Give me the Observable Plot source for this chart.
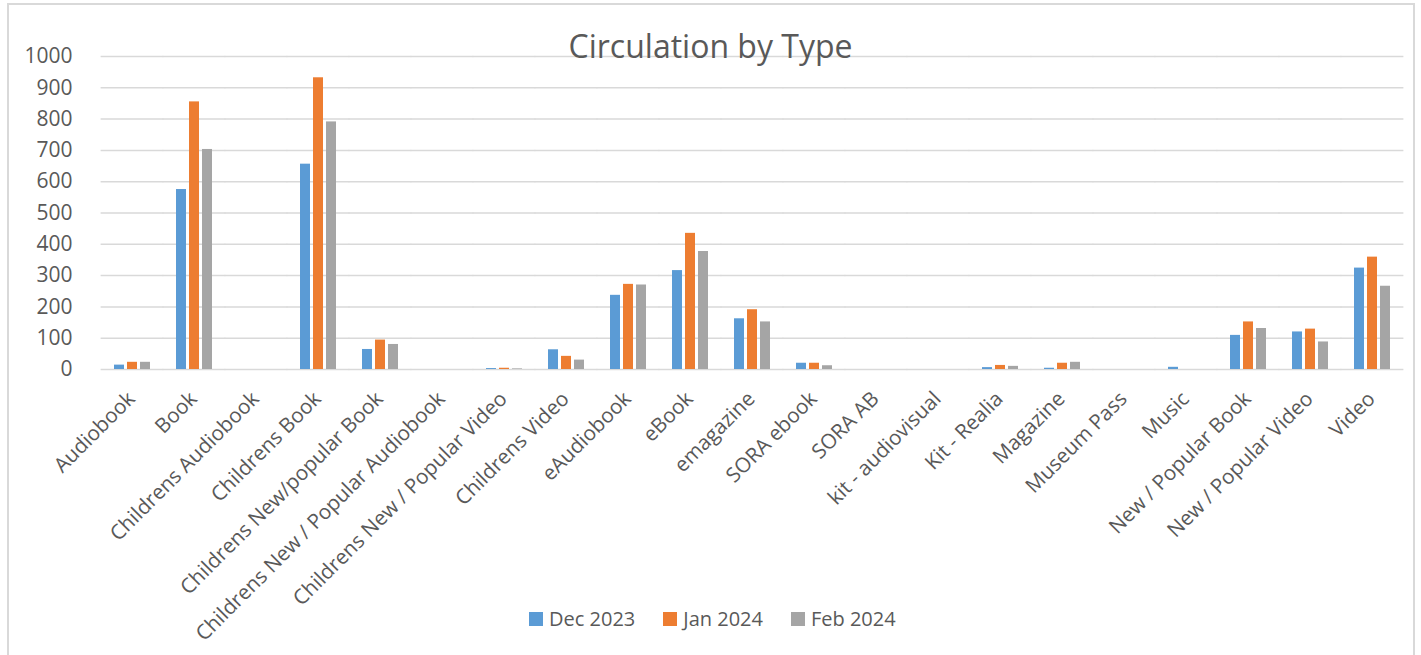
<!DOCTYPE html>
<html>
<head>
<meta charset="utf-8">
<script src="https://cdn.jsdelivr.net/npm/d3@7"></script>
<script src="https://cdn.jsdelivr.net/npm/@observablehq/plot@0.6"></script>
<style>
  html, body { margin: 0; padding: 0; background: #fff; }
  body { width: 1421px; height: 655px; position: relative; overflow: hidden; font-family: "Open Sans", sans-serif; }
  #frame { position: absolute; left: 7px; top: 3px; width: 1408px; height: 700px; border: 2px solid #d9d9d9; box-sizing: border-box; }
  #chart { position: absolute; left: 0; top: 0; }
  #title { position: absolute; left: 0; width: 1421px; top: 24px; text-align: center; font-size: 32px; color: #595959; line-height: 1.362; pointer-events: none; }
  #legend { position: absolute; left: 529px; top: 605px; display: flex; align-items: center; font-size: 20px; color: #595959; line-height: 1.362; }
  #legend .item { display: flex; align-items: center; margin-right: 28px; }
  #legend .sw { width: 14px; height: 14px; margin-right: 6px; }
</style>
</head>
<body>
<div id="frame"></div>
<div id="chart"></div>
<div id="title">Circulation by Type</div>
<div id="legend"></div>
<script>
const categories = [
  "Audiobook", "Book", "Childrens Audiobook", "Childrens Book",
  "Childrens New/popular Book", "Childrens New / Popular Audiobook",
  "Childrens New / Popular Video", "Childrens Video", "eAudiobook", "eBook",
  "emagazine", "SORA ebook", "SORA AB", "kit - audiovisual", "Kit - Realia",
  "Magazine", "Museum Pass", "Music", "New / Popular Book",
  "New / Popular Video", "Video"
];
const seriesNames = ["Dec 2023", "Jan 2024", "Feb 2024"];
const dec2023 = [14, 575, 0, 656, 64, 0, 3, 63, 237, 316, 162, 20, 0, 0, 6, 4, 0, 7, 109, 120, 324];
const jan2024 = [23, 855, 0, 932, 94, 0, 4, 42, 272, 435, 191, 20, 0, 0, 13, 20, 0, 0, 152, 129, 359];
const feb2024 = [23, 703, 0, 791, 80, 0, 2, 30, 270, 377, 152, 12, 0, 0, 10, 23, 0, 0, 131, 88, 266];
const yTicks = [0, 100, 200, 300, 400, 500, 600, 700, 800, 900, 1000];
const colors = ["#5B9BD5", "#ED7D31", "#A5A5A5"];

const seriesValues = [dec2023, jan2024, feb2024];
const rows = categories.flatMap((c, i) =>
  seriesNames.map((s, j) => ({ category: c, series: s, value: seriesValues[j][i] }))
);

const fxPadInner = 0.38, fxPadOuter = 0.19;
const plotW = 1421 - 95 - 11;
const step = plotW / (categories.length - fxPadInner + 2 * fxPadOuter);
const half = (fxPadInner * step) / 2;

const chart = Plot.plot({
  width: 1421,
  height: 600,
  marginTop: 56,
  marginBottom: 231,
  marginLeft: 95,
  marginRight: 11,
  style: { fontFamily: "'Open Sans', sans-serif", fontSize: "21px", color: "#595959", background: "transparent", overflow: "visible" },
  fx: { domain: categories, paddingInner: fxPadInner, paddingOuter: fxPadOuter, label: null },
  x: { domain: seriesNames, paddingInner: 0.2, paddingOuter: 0, axis: null },
  y: { domain: [0, 1000], label: null },
  color: { domain: seriesNames, range: colors },
  marks: [
    Plot.ruleY(yTicks, { stroke: "#d9d9d9", strokeWidth: 1.5, insetLeft: -half - 0.5, insetRight: -half - 0.5 }),
    Plot.barY(rows, { fx: "category", x: "series", y: "value", fill: "series" }),
    Plot.axisY(yTicks, { tickSize: 0, tickPadding: 41, tickFormat: d => String(d), label: null, fill: "#595959", fontSize: 21 }),
    Plot.axisFx({ anchor: "bottom", tickRotate: -45, tickSize: 0, tickPadding: 26, dx: -1, textAnchor: "end", label: null, fill: "#595959", fontSize: 20.6 })
  ]
});
document.getElementById("chart").appendChild(chart);

const legend = document.getElementById("legend");
seriesNames.forEach((s, i) => {
  const item = document.createElement("div");
  item.className = "item";
  const sw = document.createElement("div");
  sw.className = "sw";
  sw.style.background = colors[i];
  const t = document.createElement("span");
  t.textContent = s;
  item.appendChild(sw);
  item.appendChild(t);
  legend.appendChild(item);
});
</script>
</body>
</html>
